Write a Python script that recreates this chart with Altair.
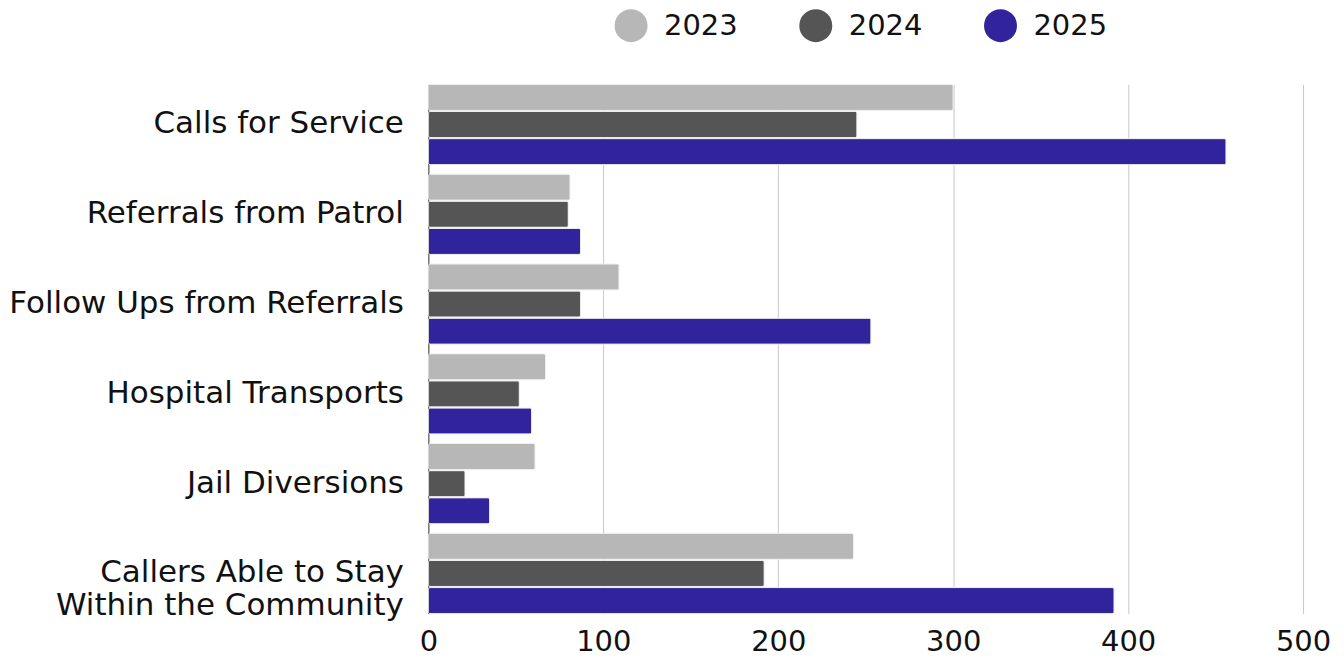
import altair as alt
import pandas as pd

categories = ["Calls for Service", "Referrals from Patrol", "Follow Ups from Referrals",
              "Hospital Transports", "Jail Diversions",
              "Callers Able to Stay\nWithin the Community"]
years = ["2023", "2024", "2025"]
v2023 = [300, 81, 109, 67, 61, 243]
v2024 = [245, 80, 87, 52, 21, 192]
v2025 = [456, 87, 253, 59, 35, 392]
colors = ["#b7b7b7", "#555555", "#30239b"]
x_ticks = [0, 100, 200, 300, 400, 500]

rows = []
for i, c in enumerate(categories):
    for y, vals in zip(years, [v2023, v2024, v2025]):
        rows.append({"category": c, "year": y, "value": vals[i]})
df = pd.DataFrame(rows)

FONT = "DejaVu Sans"

chart = alt.Chart(df).mark_bar(cornerRadius=2, stroke="#eeeeee", strokeWidth=0.8).encode(
    y=alt.Y("category:N", sort=categories, title=None,
            scale=alt.Scale(paddingInner=0.106, paddingOuter=0.0),
            axis=alt.Axis(labelFontSize=31, labelColor="#111111", labelFont=FONT,
                          ticks=False, labelPadding=25, domainColor="#444444",
                          domainWidth=1, labelLimit=500, minExtent=418, maxExtent=418,
                          labelExpr="split(datum.label, '\\n')", labelLineHeight=33)),
    yOffset=alt.YOffset("year:N", sort=years, scale=alt.Scale(paddingInner=0.04)),
    x=alt.X("value:Q", title=None,
            scale=alt.Scale(domain=[0, 500], nice=False),
            axis=alt.Axis(values=x_ticks, labelFontSize=29, labelColor="#111111", labelFont=FONT,
                          ticks=False, domain=False, gridColor="#c8c8c8", gridWidth=1,
                          labelPadding=14, labelFlush=False)),
    color=alt.Color("year:N", sort=years,
                    scale=alt.Scale(domain=years, range=colors),
                    legend=alt.Legend(title=None, orient="none", direction="horizontal",
                                      legendX=186, legendY=-76, symbolType="circle",
                                      symbolSize=1090, symbolStrokeWidth=0,
                                      labelFontSize=29, labelFont=FONT, labelColor="#111111",
                                      columnPadding=61, symbolOffset=0, padding=0,
                                      labelOffset=16)),
).properties(
    width=876, height=530,
    padding={"left": 0, "top": 0, "right": 5, "bottom": 5},
).configure_view(stroke=None)

chart.save("out.html", embed_options={"renderer": "svg", "actions": False})
